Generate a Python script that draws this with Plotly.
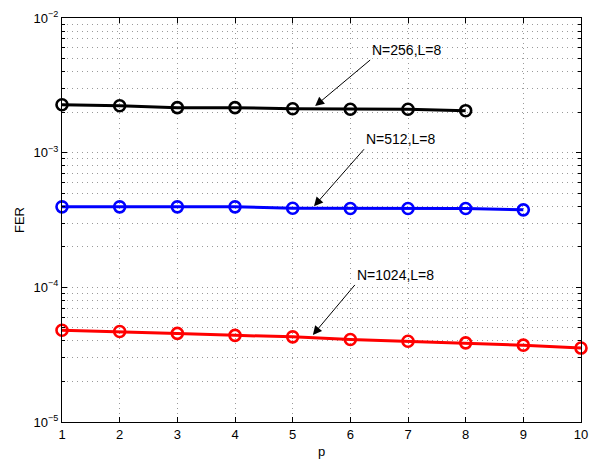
import math
import plotly.graph_objects as go

# Frame error rate versus p for three code lengths (list size L=8)
p_256 = [1, 2, 3, 4, 5, 6, 7, 8]
fer_256 = [2.27e-3, 2.23e-3, 2.16e-3, 2.16e-3, 2.12e-3, 2.10e-3, 2.10e-3, 2.05e-3]

p_512 = [1, 2, 3, 4, 5, 6, 7, 8, 9]
fer_512 = [3.96e-4, 3.96e-4, 3.96e-4, 3.96e-4, 3.87e-4, 3.85e-4, 3.85e-4, 3.85e-4, 3.76e-4]

p_1024 = [1, 2, 3, 4, 5, 6, 7, 8, 9, 10]
fer_1024 = [4.8e-5, 4.7e-5, 4.55e-5, 4.4e-5, 4.29e-5, 4.1e-5, 3.98e-5, 3.87e-5, 3.72e-5, 3.54e-5]

series_names = ["N=256,L=8", "N=512,L=8", "N=1024,L=8"]
series_colors = ["#000000", "#0000ff", "#ff0000"]

x_ticks = list(range(1, 11))
y_major = [1e-5, 1e-4, 1e-3, 1e-2]
y_major_text = ["10<sup>\u22125</sup>", "10<sup>\u22124</sup>", "10<sup>\u22123</sup>", "10<sup>\u22122</sup>"]
y_minor = [m * d for d in (1e-5, 1e-4, 1e-3) for m in range(2, 10)]

FONT = "Liberation Sans, Arial, Helvetica, sans-serif"
GRID = "#9a9a9a"
DOTS = "1px,4px"

fig = go.Figure()
for xs, ys, name, col in zip([p_256, p_512, p_1024], [fer_256, fer_512, fer_1024],
                             series_names, series_colors):
    fig.add_trace(go.Scatter(
        x=xs, y=ys, name=name, mode="lines+markers",
        line=dict(color=col, width=3),
        marker=dict(symbol="circle-open", size=11, color=col, line=dict(width=2.6, color=col)),
        cliponaxis=False, showlegend=False,
    ))

# Arrow labels pointing at each curve: (text, p at head, FER at head, tail dx, tail dy)
labels = [
    (series_names[0], 5.39, 2.22e-3, 55, -46),
    (series_names[1], 5.37, 4.0e-4, 50, -57),
    (series_names[2], 5.35, 4.43e-5, 42, -50),
]
for text, px, py, ax, ay in labels:
    fig.add_annotation(
        x=px, y=math.log10(py), xref="x", yref="y", text=text,
        showarrow=True, arrowhead=2, arrowsize=1.8, arrowwidth=1, arrowcolor="black",
        ax=ax, ay=ay, xanchor="left", yanchor="bottom",
        font=dict(family=FONT, size=14, color="black"),
    )

axis_common = dict(
    showline=True, linecolor="black", linewidth=1, mirror="ticks",
    ticks="inside", ticklen=5, tickcolor="black",
    showgrid=True, gridcolor=GRID, griddash=DOTS, gridwidth=1,
    zeroline=False, tickfont=dict(family=FONT, size=13, color="black"),
)

fig.update_xaxes(
    range=[1, 10], tickmode="array", tickvals=x_ticks,
    title=dict(text="p", font=dict(family=FONT, size=13, color="black"), standoff=6),
    **axis_common,
)
fig.update_yaxes(
    type="log", range=[-5, -2], tickmode="array", tickvals=y_major, ticktext=y_major_text,
    title=dict(text="FER", font=dict(family=FONT, size=13, color="black"), standoff=6),
    minor=dict(tickmode="array", tickvals=y_minor, ticks="inside", ticklen=3, tickcolor="black",
               showgrid=True, gridcolor=GRID, griddash=DOTS, gridwidth=1),
    **axis_common,
)

fig.update_layout(
    width=597, height=468,
    margin=dict(l=62, r=9, t=14, b=46),
    paper_bgcolor="white", plot_bgcolor="white",
    font=dict(family=FONT, size=13, color="black"),
)

fig.write_html("out.html")
